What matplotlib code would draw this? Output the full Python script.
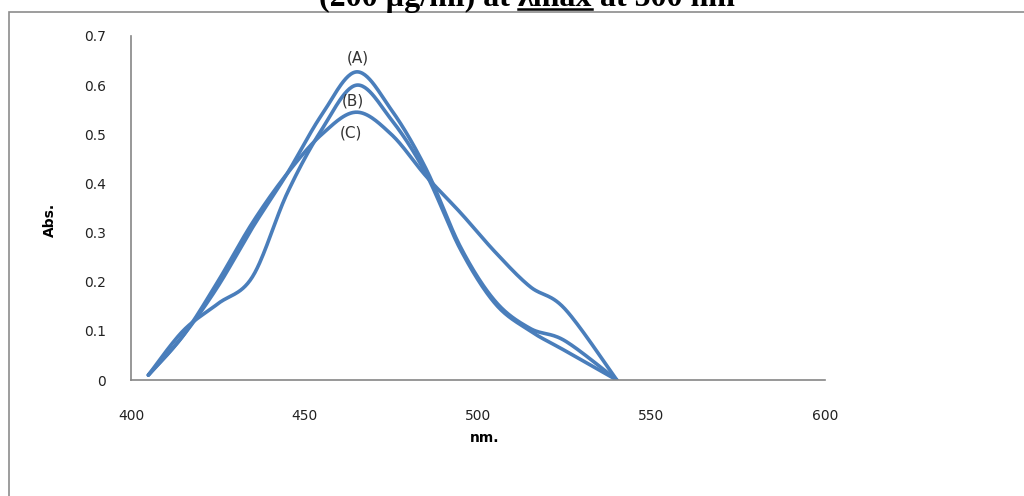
import numpy as np
import matplotlib
matplotlib.use("Agg")
import matplotlib.pyplot as plt
from matplotlib.patches import Rectangle
from matplotlib.lines import Line2D


wavelength = [405, 415, 425, 435, 445, 455, 465, 475, 485, 495, 505, 515, 525, 540]
abs_a = [0.01, 0.09, 0.19, 0.31, 0.42, 0.54, 0.627, 0.55, 0.43, 0.27, 0.16, 0.105, 0.08, 0.0]
abs_b = [0.01, 0.10, 0.155, 0.21, 0.38, 0.51, 0.60, 0.53, 0.42, 0.265, 0.155, 0.10, 0.06, 0.0]
abs_c = [0.01, 0.09, 0.20, 0.32, 0.42, 0.50, 0.545, 0.50, 0.415, 0.34, 0.26, 0.19, 0.145, 0.0]
curve_names = ["(A)", "(B)", "(C)"]

x_ticks = [400, 450, 500, 550, 600]
y_ticks = [0, 0.1, 0.2, 0.3, 0.4, 0.5, 0.6, 0.7]
y_tick_labels = ["0", "0.1", "0.2", "0.3", "0.4", "0.5", "0.6", "0.7"]


def smooth_line(xs, ys, n=30):
    # excel style smoothed line: cubic bezier, control points from neighbours / 6
    xs = np.asarray(xs, float)
    ys = np.asarray(ys, float)
    px = np.concatenate([[xs[0]], xs, [xs[-1]]])
    py = np.concatenate([[ys[0]], ys, [ys[-1]]])
    out_x = []
    out_y = []
    t = np.linspace(0, 1, n)
    for i in range(1, len(px) - 2):
        p0 = np.array([px[i], py[i]])
        p3 = np.array([px[i + 1], py[i + 1]])
        c1 = p0 + (np.array([px[i + 1], py[i + 1]]) - np.array([px[i - 1], py[i - 1]])) / 6
        c2 = p3 - (np.array([px[i + 2], py[i + 2]]) - np.array([px[i], py[i]])) / 6
        bx = (1 - t) ** 3 * p0[0] + 3 * (1 - t) ** 2 * t * c1[0] + 3 * (1 - t) * t ** 2 * c2[0] + t ** 3 * p3[0]
        by = (1 - t) ** 3 * p0[1] + 3 * (1 - t) ** 2 * t * c1[1] + 3 * (1 - t) * t ** 2 * c2[1] + t ** 3 * p3[1]
        out_x.extend(bx)
        out_y.extend(by)
    return np.array(out_x), np.array(out_y)


fig = plt.figure(figsize=(10.24, 4.96), dpi=100)

# outer chart frame, cut by the picture edges
fig.patches.append(Rectangle((9 / 1024, -0.2), 1.2, 0.2 + 1 - 12 / 496, transform=fig.transFigure,
                             fill=False, edgecolor="#8c8c8c", linewidth=1.2))

ax = fig.add_axes([131 / 1024, 1 - 380 / 496, (825 - 131) / 1024, (380 - 36) / 496])

line_color = "#4a7ebb"
for ys in [abs_a, abs_b, abs_c]:
    sx, sy = smooth_line(wavelength, ys)
    ax.plot(sx, sy, color=line_color, linewidth=2.6, solid_capstyle="round")

peak_x = wavelength[int(np.argmax(abs_a))]
ax.text(peak_x + 0.3, max(abs_a) + 0.012, curve_names[0], ha="center", va="bottom", fontsize=11, color="#333333")
ax.text(peak_x - 1.2, max(abs_b) - 0.048, curve_names[1], ha="center", va="bottom", fontsize=11, color="#333333")
ax.text(peak_x - 1.5, max(abs_c) - 0.027, curve_names[2], ha="center", va="top", fontsize=11, color="#333333")

ax.set_xlim(400, 600)
ax.set_ylim(0, 0.7)
ax.set_xticks(x_ticks)
ax.set_yticks(y_ticks)
ax.set_yticklabels(y_tick_labels)
ax.tick_params(length=0, labelsize=10, colors="#222222")
ax.tick_params(axis="x", pad=21)
ax.tick_params(axis="y", pad=18)
for side in ["top", "right"]:
    ax.spines[side].set_visible(False)
for side in ["left", "bottom"]:
    ax.spines[side].set_color("#868686")
    ax.spines[side].set_linewidth(1.2)

ax.set_xlabel("nm.", fontsize=10, fontweight="bold")
ax.set_ylabel("Abs.", fontsize=10, fontweight="bold")
ax.xaxis.set_label_coords(0.51, -0.148)
ax.yaxis.set_label_coords(-0.106, 0.465)

# title, only the lower part shows in the picture
title_parts = ["(200 µg/ml) at ", "λmax", " at 500 nm"]
title_font = dict(fontsize=23, fontweight="bold", family="Liberation Serif", color="black")
fig.canvas.draw()
renderer = fig.canvas.get_renderer()
widths = []
for part in title_parts:
    t = fig.text(0, 0, part, **title_font)
    widths.append(t.get_window_extent(renderer).width)
    t.remove()
total = sum(widths)
x0 = 527 - total / 2
base_y = 1 - 6 / 496
cur = x0
for i, part in enumerate(title_parts):
    fig.text(cur / 1024, base_y, part, ha="left", va="baseline", **title_font)
    if i == 1:
        fig.lines.append(Line2D([cur / 1024, (cur + widths[i]) / 1024], [1 - 8.5 / 496, 1 - 8.5 / 496],
                                transform=fig.transFigure, color="black", linewidth=1.8))
    cur += widths[i]

fig.savefig("out.png", dpi=100)
